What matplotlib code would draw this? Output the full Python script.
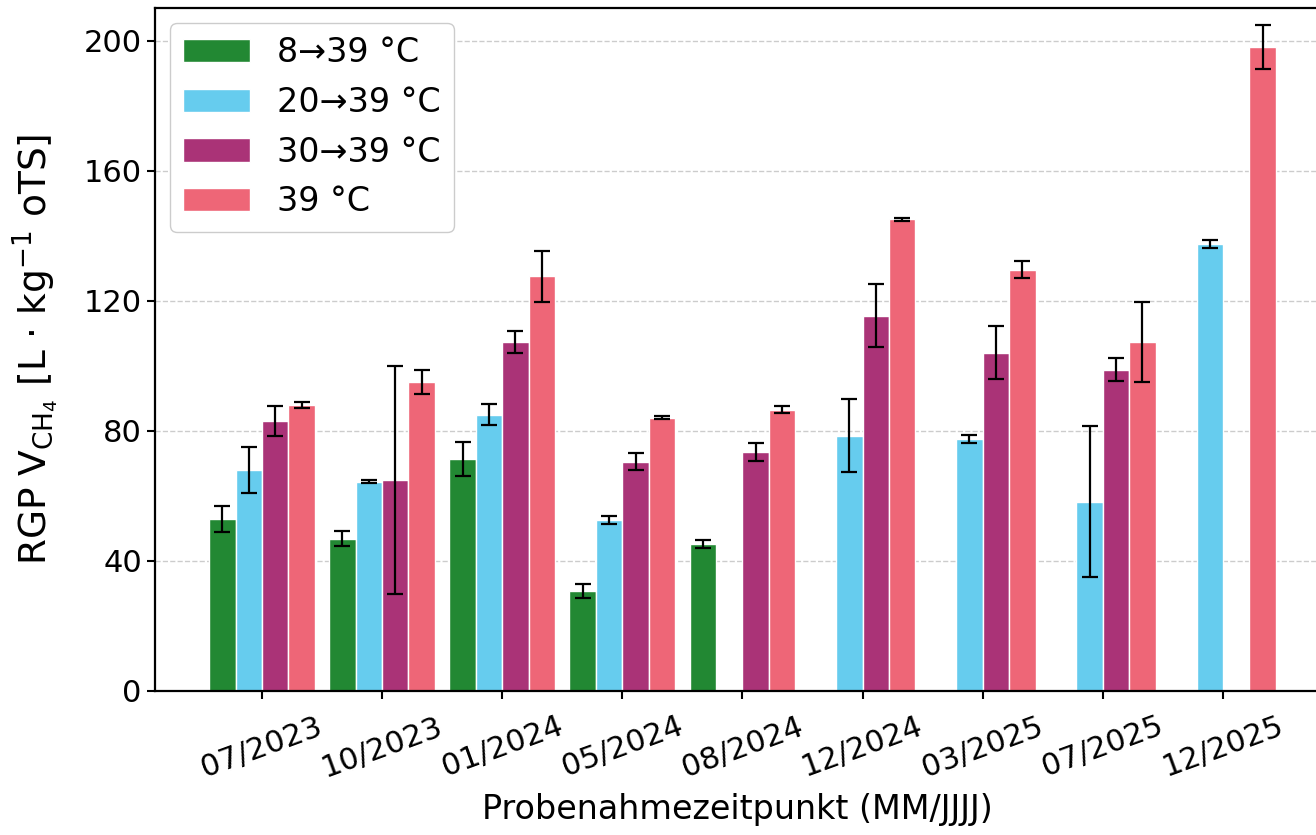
import numpy as np
import matplotlib.pyplot as plt

# sampling dates
dates = ['07/2023', '10/2023', '01/2024', '05/2024', '08/2024',
         '12/2024', '03/2025', '07/2025', '12/2025']

labels = ['8→39 °C', '20→39 °C', '30→39 °C', '39 °C']
colors = ['#228833', '#66CCEE', '#AA3377', '#EE6677']

nan = np.nan
# mean values
v_8 = [53.0, 46.8, 71.3, 30.8, 45.2, nan, nan, nan, nan]
v_20 = [68.0, 64.3, 85.0, 52.6, nan, 78.5, 77.5, 58.2, 137.5]
v_30 = [83.0, 64.9, 107.3, 70.5, 73.5, 115.4, 104.0, 98.8, nan]
v_39 = [88.0, 94.9, 127.5, 84.0, 86.5, 145.0, 129.5, 107.4, 198.0]
# standard deviations
e_8 = [4.0, 2.3, 5.3, 2.2, 1.2, nan, nan, nan, nan]
e_20 = [7.0, 0.5, 3.2, 1.2, nan, 11.2, 1.2, 23.2, 1.2]
e_30 = [4.5, 35.0, 3.3, 2.6, 2.8, 9.7, 8.2, 3.5, nan]
e_39 = [1.0, 3.7, 7.8, 0.5, 1.0, 0.5, 2.6, 12.3, 6.8]

values = [v_8, v_20, v_30, v_39]
errors = [e_8, e_20, e_30, e_39]

plt.rcParams['font.family'] = 'DejaVu Sans'

fig = plt.figure(figsize=(13.16, 8.35), dpi=100)
ax = fig.add_axes([0.1178, 0.1725, 0.8845, 0.8179])

x = np.arange(len(dates))
w = 0.22
for i in range(4):
    vals = np.array(values[i], dtype=float)
    errs = np.array(errors[i], dtype=float)
    ok = ~np.isnan(vals)
    pos = x[ok] + (i - 1.5) * w
    ax.bar(pos, vals[ok], width=w, color=colors[i], edgecolor='white',
           linewidth=1, label=labels[i], zorder=2)
    ax.errorbar(pos, vals[ok], yerr=errs[ok], fmt='none', ecolor='black',
                elinewidth=1.6, capsize=6, capthick=1.6, zorder=3)

ax.set_xlim(-0.89, 8.8)
ax.set_ylim(0, 210)
ax.set_yticks([0, 40, 80, 120, 160, 200])
ax.set_xticks(x)
ax.set_xticklabels(dates, rotation=20, ha='center')
ax.tick_params(axis='both', labelsize=22, length=6, width=1.5)
ax.tick_params(axis='x', pad=9)
ax.grid(axis='y', linestyle='--', color='#cccccc', linewidth=1, zorder=0)
ax.set_axisbelow(True)
for s in ax.spines.values():
    s.set_linewidth(1.6)

ax.set_ylabel(r'RGP $\mathrm{V}_{\mathrm{CH}_4}$ [L · kg$^{-1}$ oTS]', fontsize=27, labelpad=16)
ax.set_xlabel('Probenahmezeitpunkt (MM/JJJJ)', fontsize=24, labelpad=8)

ax.legend(loc='upper left', fontsize=24, handlelength=2.0, handletextpad=0.8,
          labelspacing=0.5, borderpad=0.4, borderaxespad=0.45, framealpha=1,
          edgecolor='#cccccc')

fig.savefig('out.png', dpi=100)
